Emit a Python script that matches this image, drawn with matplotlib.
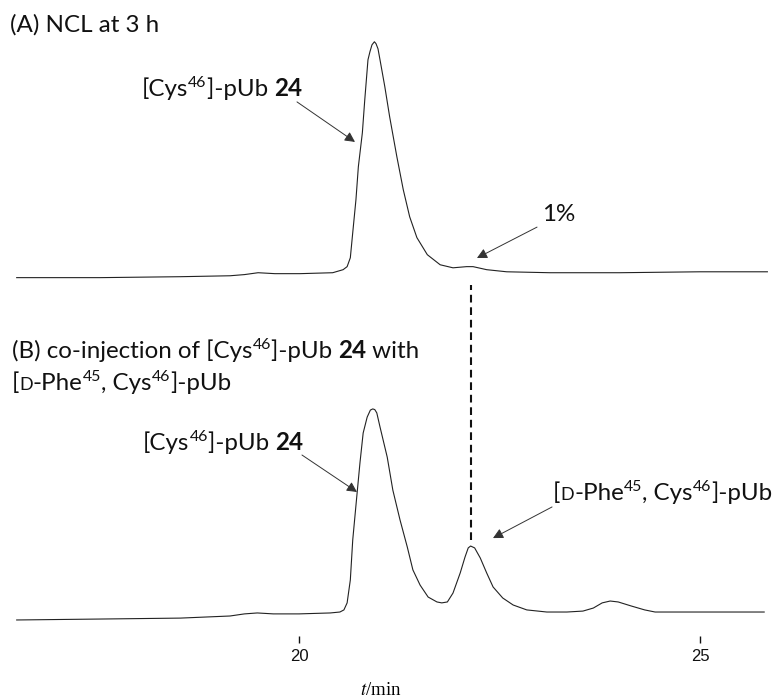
import numpy as np
import matplotlib
matplotlib.use('Agg')
import matplotlib.pyplot as plt
from matplotlib.font_manager import FontProperties
from matplotlib.transforms import IdentityTransform

# chromatogram (A) reaction mixture after 3 h, retention time (min) / absorbance (a.u.)
time_a = [16.48, 17.52, 18.52, 19.14, 19.32, 19.49, 19.70, 20.01, 20.42, 20.55,
          20.60, 20.64, 20.67, 20.71, 20.74, 20.79, 20.82, 20.86, 20.885, 20.91,
          20.94, 20.96, 20.985, 21.01, 21.07, 21.13, 21.22, 21.30, 21.38, 21.47,
          21.60, 21.76, 21.92, 22.09, 22.17, 22.34, 22.59, 23.13, 24.00, 25.00,
          25.84]
signal_a = [-0.4, -0.4, 0.0, 0.4, 0.9, 1.7, 1.3, 1.3, 1.7, 3.0,
            4.3, 8.1, 18.8, 32.9, 47.0, 61.5, 75.6, 92.7, 96.2, 99.1,
            100.4, 99.6, 97.4, 92.7, 81.2, 68.4, 51.3, 37.2, 25.6, 16.7,
            9.4, 5.1, 3.8, 4.3, 4.3, 3.0, 2.1, 1.7, 1.7, 2.1,
            2.1]

# chromatogram (B) co-injection
time_b = [16.48, 17.52, 18.52, 19.14, 19.32, 19.48, 19.68, 20.00, 20.39, 20.51,
          20.56, 20.60, 20.64, 20.67, 20.72, 20.76, 20.80, 20.85, 20.89, 20.92,
          20.945, 20.97, 21.01, 21.10, 21.17, 21.26, 21.35, 21.42, 21.51, 21.61,
          21.72, 21.78, 21.85, 21.92, 22.01, 22.07, 22.11, 22.14, 22.19, 22.26,
          22.34, 22.42, 22.54, 22.67, 22.84, 23.09, 23.34, 23.54, 23.67, 23.78,
          23.88, 23.98, 24.14, 24.31, 24.44, 24.88, 25.80]
signal_b = [-1.7, -1.3, -0.9, 0.0, 0.9, 1.3, 0.9, 0.9, 1.3, 1.7,
            2.6, 5.6, 15.4, 32.5, 50.9, 65.4, 78.2, 85.0, 88.0, 88.5,
            88.2, 86.8, 80.8, 67.9, 53.8, 41.0, 29.5, 19.7, 13.2, 8.1,
            6.0, 5.6, 6.0, 9.8, 18.4, 25.2, 29.1, 29.9, 29.1, 24.8,
            18.4, 12.4, 7.7, 4.7, 2.6, 1.7, 1.7, 2.1, 3.4, 5.6,
            6.4, 6.0, 4.3, 2.6, 1.7, 1.7, 1.7]

tick_times = [20, 25]
coinject_time = 22.15
OFFSET_A = 145

W, H = 773, 699
plt.rcParams['font.family'] = ['Lato', 'DejaVu Sans']

fig = plt.figure(figsize=(W / 100, H / 100), dpi=100)
ax = fig.add_axes([0, 56 / H, 1, 643 / H])

ax.plot(time_a, np.array(signal_a) + OFFSET_A, color='#222222', lw=0.8)
ax.plot(time_b, signal_b, color='#222222', lw=0.8)
ax.vlines(coinject_time, 32.5, OFFSET_A - 3.5, colors='#111111',
          linestyles=(0, (3.7, 2.3)), lw=1.5)

ax.set_xlim(16.272, 25.91)
ax.set_ylim(-11.54, 263.25)
for sp in ax.spines.values():
    sp.set_visible(False)
ax.set_yticks([])
ax.set_xticks(tick_times)
ax.tick_params(axis='x', which='major', bottom=True, direction='in',
               length=5, width=1.0, pad=4.5, labelsize=12, colors='#111111')
for lab in ax.get_xticklabels():
    lab.set_fontfamily('Liberation Sans')
ax.set_xlabel('$t$/min', fontsize=13.5, family='Liberation Serif',
              math_fontfamily='stix')
ax.xaxis.set_label_coords(0.493, -0.0607)

# arrows: (tip, tail) in data coords
arrows = [((20.698, 202.6), (19.975, 219.7)),
          ((22.219, 153.0), (22.968, 166.2)),
          ((20.723, 53.0), (20.037, 68.8)),
          ((22.419, 33.3), (23.155, 46.6))]
for tip, tail in arrows:
    ax.annotate('', xy=tip, xytext=tail,
                arrowprops=dict(arrowstyle='-|>,head_length=0.55,head_width=0.28',
                                mutation_scale=11, lw=0.7, color='#333333',
                                shrinkA=0, shrinkB=0))

# rich labels built from pieces: (text, size factor, weight, rise in em)
SIZE = 17.4
SUP = (0.66, 0.37)
renderer = fig.canvas.get_renderer()


def advance(s, prop):
    w1 = renderer.get_text_width_height_descent(s + '|', prop, ismath=False)[0]
    w2 = renderer.get_text_width_height_descent('|', prop, ismath=False)[0]
    return w1 - w2


def rich(x, base, parts):
    for s, fac, weight, rise in parts:
        prop = FontProperties(family=['Lato', 'DejaVu Sans'], size=SIZE * fac,
                              weight=weight)
        y = H - base + rise * SIZE * 100 / 72
        fig.text(x, y, s, fontproperties=prop, va='baseline', ha='left',
                 transform=IdentityTransform(), color='#111111')
        x += advance(s, prop)


def sup(s):
    return (s, SUP[0], 'normal', SUP[1])


def txt(s, weight='normal'):
    return (s, 1, weight, 0)


cys_label = [txt('[Cys'), sup('46'), txt(']-pUb '), txt('24', 'bold')]
dphe_label = [txt('['), ('D', 0.74, 'normal', 0), txt('-Phe'), sup('45'),
              txt(', Cys'), sup('46'), txt(']-pUb')]

rich(10, 32, [txt('(A) NCL at 3 h')])
rich(142, 96, cys_label)
rich(542, 221, [txt('1%')])
rich(12, 358, [txt('(B) co-injection of [Cys'), sup('46'), txt(']-pUb '),
               txt('24', 'bold'), txt(' with')])
rich(12, 390, dphe_label)
rich(143, 450, cys_label)
rich(553, 500, dphe_label)

fig.savefig('out.png', dpi=100)
